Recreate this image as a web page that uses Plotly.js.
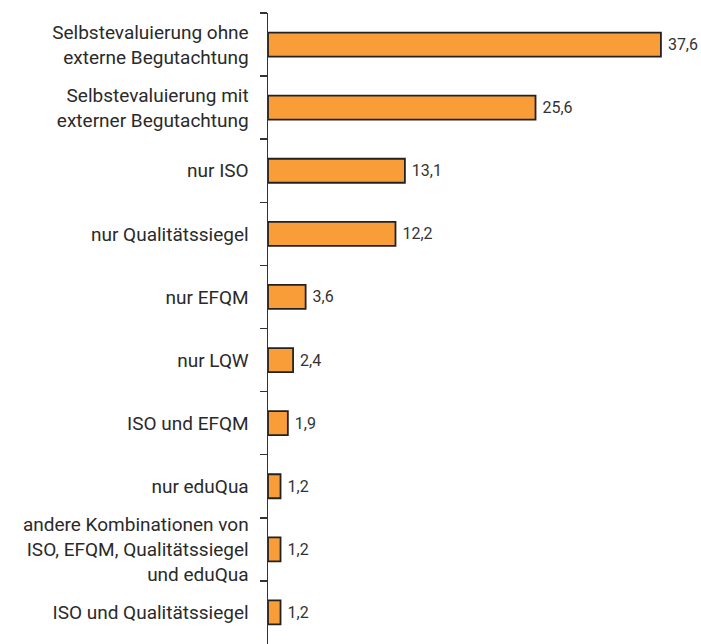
<!DOCTYPE html>
<html>
<head>
<meta charset="utf-8">
<script src="https://cdn.plot.ly/plotly-3.0.1.min.js"></script>
<style>html,body{margin:0;padding:0;background:#fff;}#chart{width:701px;height:644px;}</style>
</head>
<body>
<div id="chart"></div>
<script>
var categories = [
  "Selbstevaluierung ohne<br>externe Begutachtung",
  "Selbstevaluierung mit<br>externer Begutachtung",
  "nur ISO",
  "nur Qualitätssiegel",
  "nur EFQM",
  "nur LQW",
  "ISO und EFQM",
  "nur eduQua",
  "andere Kombinationen von<br>ISO, EFQM, Qualitätssiegel<br>und eduQua",
  "ISO und Qualitätssiegel"
];
var values = [37.6, 25.6, 13.1, 12.2, 3.6, 2.4, 1.9, 1.2, 1.2, 1.2];
var valueLabels = ["37,6", "25,6", "13,1", "12,2", "3,6", "2,4", "1,9", "1,2", "1,2", "1,2"];

var trace = {
  type: "bar",
  orientation: "h",
  y: categories,
  x: values,
  text: valueLabels,
  texttemplate: "\u00a0%{text}",
  textposition: "outside",
  cliponaxis: false,
  textfont: {family: "Roboto, sans-serif", size: 16, color: "#333"},
  marker: {color: "#F99D38", line: {color: "#222", width: 1.8}},
  hoverinfo: "none"
};

var layout = {
  width: 701,
  height: 644,
  margin: {l: 268, r: 15, t: 13, b: 0},
  paper_bgcolor: "#fff",
  plot_bgcolor: "#fff",
  bargap: 0.62,
  showlegend: false,
  xaxis: {
    range: [0, 40],
    visible: false,
    fixedrange: true
  },
  yaxis: {
    type: "category",
    autorange: "reversed",
    showline: true,
    linecolor: "#333",
    linewidth: 1.5,
    ticks: "outside",
    tickson: "boundaries",
    ticklen: 7,
    tickwidth: 1.5,
    tickcolor: "#333",
    showgrid: false,
    zeroline: false,
    ticklabelstandoff: 14,
    tickfont: {family: "Roboto, sans-serif", size: 19, color: "#2a2a2a"},
    fixedrange: true
  }
};

Plotly.newPlot("chart", [trace], layout, {displayModeBar: false, staticPlot: true});
</script>
</body>
</html>
